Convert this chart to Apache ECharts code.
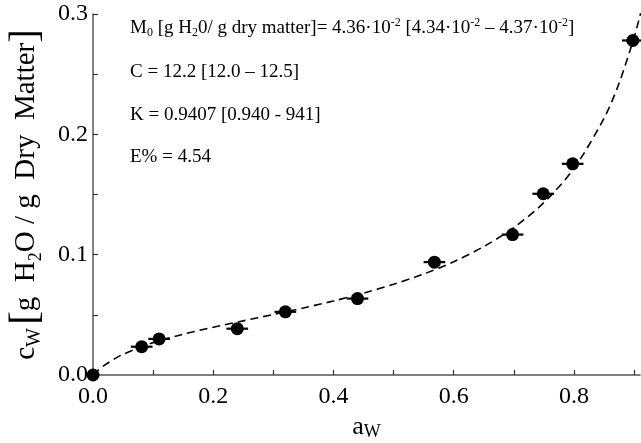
<!DOCTYPE html>
<html>
<head>
<meta charset="utf-8">
<script src="https://cdn.jsdelivr.net/npm/echarts@6/dist/echarts.min.js"></script>
<style>html,body{margin:0;padding:0;background:#fff}#c{width:641px;height:443px}</style>
</head>
<body>
<div id="c"></div>
<script>
// measured points (a_w, c_w)
var pointsX = [0.0, 0.081, 0.110, 0.240, 0.320, 0.440, 0.568, 0.698, 0.749, 0.798, 0.898];
var pointsY = [0.0, 0.0235, 0.0300, 0.0385, 0.0525, 0.0635, 0.0938, 0.1167, 0.1506, 0.1755, 0.2780];
// horizontal error (half-width) of each point
var pointsErr = [0, 0.018, 0.018, 0.018, 0.018, 0.018, 0.018, 0.018, 0.018, 0.018, 0.018];
// fitted curve
var curveX = [0, 0.01, 0.02, 0.035, 0.05, 0.1, 0.15, 0.2, 0.25, 0.3, 0.35, 0.4, 0.45, 0.5, 0.55, 0.6, 0.65, 0.7, 0.75, 0.8, 0.85, 0.875, 0.9, 0.905, 0.91, 0.912];
var curveY = [0, 0.0046, 0.0084, 0.0132, 0.0172, 0.0269, 0.0339, 0.0397, 0.0450, 0.0503, 0.0557, 0.0615, 0.0680, 0.0754, 0.0839, 0.0941, 0.1067, 0.1225, 0.1432, 0.1716, 0.2132, 0.2422, 0.2801, 0.2891, 0.2987, 0.3028];
var xTicks = ['0.0', '0.2', '0.4', '0.6', '0.8'];
var yTicks = ['0.0', '0.1', '0.2', '0.3'];

var font = 'Liberation Serif';
var chart = echarts.init(document.getElementById('c'));

var scatterData = pointsX.map(function (x, i) { return [x, pointsY[i], pointsErr[i]]; });
var curveData = curveX.map(function (x, i) { return [x, curveY[i]]; });

var subStyle = { fontFamily: font, fontSize: 12, lineHeight: 12, verticalAlign: 'bottom', color: '#000' };
var supStyle = { fontFamily: font, fontSize: 12, lineHeight: 12, verticalAlign: 'top', color: '#000' };
var baseStyle = { fontFamily: font, fontSize: 19, lineHeight: 22, color: '#000' };

function annot(y, text) {
  return {
    type: 'text', left: 130, top: y,
    style: {
      text: text, fontFamily: font, fontSize: 19, lineHeight: 22, fill: '#000',
      rich: { b: baseStyle, sub: subStyle, sup: supStyle }
    }
  };
}

chart.setOption({
  animation: false,
  backgroundColor: '#fff',
  grid: { left: 93, right: 1, top: 14, bottom: 68, containLabel: false, outerBoundsMode: 'none' },
  xAxis: {
    type: 'value', min: 0, max: 0.91, interval: 0.1,
    name: '{b|a}{sub|W}',
    nameLocation: 'middle', nameGap: 38,
    nameTextStyle: {
      rich: {
        b: { fontFamily: font, fontSize: 26, lineHeight: 28, color: '#000' },
        sub: { fontFamily: font, fontSize: 18, lineHeight: 16, verticalAlign: 'bottom', color: '#000' }
      }
    },
    axisLine: { show: true, onZero: false, lineStyle: { color: '#555', width: 1.5 } },
    axisTick: { show: true, inside: true, length: 5, lineStyle: { color: '#333', width: 1.2 } },
    splitLine: { show: false },
    axisLabel: {
      fontFamily: font, fontSize: 24, color: '#000', margin: 10,
      showMaxLabel: false,
      formatter: function (v) {
        var k = Math.round(v * 10);
        if (Math.abs(v * 10 - k) > 1e-6 || k % 2 !== 0) return '';
        return xTicks[k / 2] || '';
      }
    }
  },
  yAxis: {
    type: 'value', min: 0, max: 0.3, interval: 0.1,
    name: '{b|c}{sub|W} {br|[}{b|g  H}{sub2|2}{b|O / g  Dry  Matter}{br|]}',
    nameLocation: 'middle', nameGap: 48, nameRotate: 90,
    nameTextStyle: {
      rich: {
        b: { fontFamily: font, fontSize: 29, lineHeight: 38, color: '#000' },
        sub: { fontFamily: font, fontSize: 20, lineHeight: 19, verticalAlign: 'bottom', color: '#000' },
        sub2: { fontFamily: font, fontSize: 18, lineHeight: 17, verticalAlign: 'bottom', color: '#000' },
        br: { fontFamily: font, fontSize: 41, lineHeight: 38, color: '#000' }
      }
    },
    axisLine: { show: true, onZero: false, lineStyle: { color: '#555', width: 1.5 } },
    axisTick: { show: true, inside: true, length: 5, lineStyle: { color: '#333', width: 1.2 } },
    minorTick: { show: true, splitNumber: 2, length: 5, lineStyle: { color: '#333', width: 1.2 } },
    splitLine: { show: false },
    minorSplitLine: { show: false },
    axisLabel: {
      fontFamily: font, fontSize: 24, color: '#000', margin: 5,
      formatter: function (v) { return yTicks[Math.round(v * 10)]; }
    }
  },
  graphic: [
    annot(17, '{b|M}{sub|0}{b| [g H}{sub|2}{b|0/ g dry matter]= 4.36·10}{sup|-2}{b| [4.34·10}{sup|-2}{b| – 4.37·10}{sup|-2}{b|]}'),
    annot(61, '{b|C = 12.2 [12.0 – 12.5]}'),
    annot(104, '{b|K = 0.9407 [0.940 - 941]}'),
    annot(146, '{b|E% = 4.54}')
  ],
  series: [
    {
      type: 'line', data: curveData, smooth: 0.3, symbol: 'none', clip: true,
      lineStyle: { color: '#000', width: 1.6, type: [8, 5] }, z: 2
    },
    {
      type: 'custom', data: scatterData, clip: false, z: 3,
      renderItem: function (params, api) {
        var x = api.value(0), y = api.value(1), e = api.value(2);
        if (!e) return null;
        var p1 = api.coord([x - e, y]);
        var p2 = api.coord([x + e, y]);
        return {
          type: 'line',
          shape: { x1: p1[0], y1: p1[1], x2: p2[0], y2: p2[1] },
          style: { stroke: '#000', lineWidth: 2.2 }
        };
      }
    },
    {
      type: 'scatter', data: scatterData, symbol: 'circle', symbolSize: 13, clip: false, z: 4,
      itemStyle: { color: '#000', opacity: 1 }
    }
  ]
});
</script>
</body>
</html>
